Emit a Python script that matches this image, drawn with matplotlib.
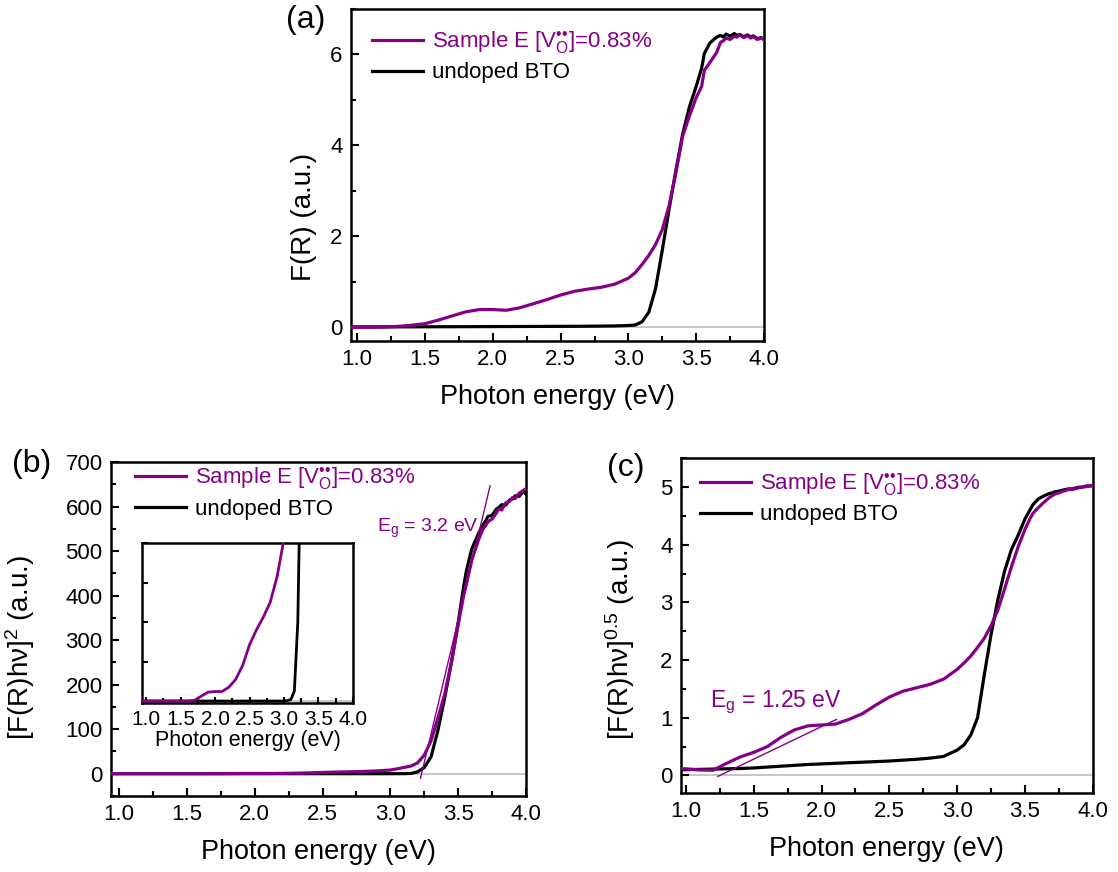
import matplotlib
matplotlib.use('Agg')
import matplotlib.pyplot as plt
from matplotlib.ticker import MultipleLocator

plt.rcParams['font.family'] = ['Liberation Sans', 'DejaVu Sans']
plt.rcParams['mathtext.fontset'] = 'custom'
plt.rcParams['mathtext.rm'] = 'Liberation Sans'
plt.rcParams['mathtext.it'] = 'Liberation Sans:italic'
plt.rcParams['mathtext.bf'] = 'Liberation Sans:bold'

PURPLE = '#850085'

# photon energy grid (eV), shared by all panels
energy = [0.94, 1.0, 1.1, 1.2, 1.3, 1.4, 1.5, 1.6, 1.7, 1.8, 1.9, 2.0, 2.1, 2.2,
          2.3, 2.4, 2.5, 2.6, 2.7, 2.8, 2.9, 3.0, 3.05, 3.1, 3.15, 3.2, 3.25,
          3.3, 3.35, 3.4, 3.45, 3.5, 3.54, 3.56, 3.6, 3.65, 3.68, 3.7, 3.72,
          3.75, 3.78, 3.8, 3.82, 3.85, 3.88, 3.9, 3.92, 3.95, 3.98, 4.0]

# (a) Kubelka-Munk F(R)
fr_sample = [0.0, 0.0, 0.0, 0.005, 0.02, 0.045, 0.08, 0.16, 0.25, 0.34, 0.39, 0.39,
             0.375, 0.43, 0.52, 0.61, 0.71, 0.79, 0.84, 0.88, 0.95, 1.08,
             1.2, 1.38, 1.58, 1.82, 2.15, 2.68, 3.4, 4.2, 4.65, 5.05,
             5.3, 5.65,
             5.82, 6.04, 6.27, 6.3, 6.36, 6.33, 6.4, 6.38, 6.43, 6.37, 6.41, 6.36,
             6.39, 6.33, 6.36, 6.32]
fr_undoped = [0.01, 0.01, 0.01, 0.01, 0.01, 0.01, 0.012, 0.012, 0.013, 0.014, 0.015,
              0.016, 0.017, 0.018, 0.019, 0.02, 0.021, 0.022, 0.024, 0.027, 0.03, 0.04,
              0.05, 0.12, 0.33, 0.85, 1.7, 2.6, 3.45, 4.25, 4.85, 5.3,
              5.7, 6.02,
              6.25, 6.38, 6.42, 6.38, 6.45, 6.4, 6.46, 6.42, 6.44, 6.39, 6.43, 6.38,
              6.41, 6.35, 6.37, 6.33]

# (b) [F(R)hv]^2, direct gap
direct_sample = [0, 0, 0, 0, 0, 0, 0, 0, 0.03, 0.25, 0.45, 0.48, 0.48, 0.7, 1.1, 1.8,
                 2.85, 3.6, 4.25, 5.0, 6.3, 8.2,
                 11, 14, 17, 24, 42, 74, 125, 178, 250, 335,
                 400, 425,
                 480, 525, 548, 556, 566, 572, 585, 595, 592, 608, 612, 620, 618,
                 630, 636, 640]
direct_undoped = [0, 0, 0, 0, 0, 0, 0, 0, 0, 0, 0, 0, 0, 0, 0, 0, 0, 0, 0, 0, 0, 0,
                  0.02, 0.08, 0.5, 4.0, 14, 38, 97, 170, 250, 340,
                  420, 455,
                  505, 540, 558, 566, 578, 580, 594, 598, 604, 603, 615, 617, 624,
                  623, 634, 628]

# (c) [F(R)hv]^0.5, indirect gap
indirect_sample = [0.12, 0.115, 0.095, 0.09, 0.21, 0.32, 0.40, 0.50, 0.66, 0.79, 0.86,
                   0.875, 0.89, 0.97, 1.07, 1.22, 1.36, 1.46, 1.52, 1.58, 1.67, 1.84,
                   1.95, 2.07, 2.22, 2.38, 2.6, 2.87, 3.24, 3.62, 3.97, 4.27,
                   4.47, 4.55,
                   4.65, 4.76, 4.82, 4.85, 4.88, 4.9, 4.93, 4.94, 4.96, 4.96, 4.98,
                   4.99, 5.0, 5.01, 5.02, 5.03]
indirect_undoped = [0.1, 0.1, 0.105, 0.11, 0.115, 0.12, 0.13, 0.145, 0.16, 0.175, 0.19,
                    0.2, 0.21, 0.22, 0.23, 0.24, 0.25, 0.265, 0.28, 0.3, 0.33, 0.44,
                    0.53, 0.7, 1.0, 1.75, 2.45, 3.05, 3.55, 3.92, 4.17, 4.45,
                    4.62, 4.7,
                    4.8, 4.86, 4.89, 4.9, 4.92, 4.93, 4.95, 4.96, 4.97, 4.97, 4.99,
                    5.0, 5.0, 5.02, 5.02, 5.03]

# linear fits of the absorption edge: gap energy, slope, fitted energy span
eg_direct, slope_direct, span_direct = 3.23, 1280.0, [3.222, 3.735]
eg_indirect, slope_indirect, span_indirect = 1.25, 1.13, [1.235, 2.11]

label_sample = 'Sample E [V$_{\\mathrm{O}}^{\\mathrm{\u2022\u2022}}$]=0.83%'
label_undoped = 'undoped BTO'


def style_axes(ax, xlim, ylim, ymajor, yminor, ticksize=16):
    ax.set_xlim(*xlim)
    ax.set_ylim(*ylim)
    ax.xaxis.set_major_locator(MultipleLocator(0.5))
    ax.xaxis.set_minor_locator(MultipleLocator(0.25))
    ax.yaxis.set_major_locator(MultipleLocator(ymajor))
    ax.yaxis.set_minor_locator(MultipleLocator(yminor))
    ax.xaxis.set_major_formatter('{x:.1f}')
    ax.tick_params(which='both', direction='in', top=False, right=False,
                   width=1.5, labelsize=ticksize, pad=6)
    ax.tick_params(which='major', length=6)
    ax.tick_params(which='minor', length=3.5)
    for sp in ax.spines.values():
        sp.set_linewidth(1.8)
    ax.axhline(0, color='#bdbdbd', lw=1.2, zorder=0)


def draw_pair(ax, y_sample, y_undoped, lw=2.3):
    ax.plot(energy, y_sample, color=PURPLE, lw=lw, label=label_sample, zorder=3)
    ax.plot(energy, y_undoped, color='black', lw=lw, label=label_undoped, zorder=2)


def add_legend(ax, anchor):
    ax.legend(loc='upper left', bbox_to_anchor=anchor, frameon=False, fontsize=16,
              handlelength=2.3, handletextpad=0.4, labelspacing=0.3,
              borderpad=0, borderaxespad=0, labelcolor='linecolor')


fig = plt.figure(figsize=(11.18, 8.72), dpi=100)

# (a)
ax_a = fig.add_axes([0.314, 0.609, 0.3694, 0.3807])
draw_pair(ax_a, fr_sample, fr_undoped)
style_axes(ax_a, (0.955, 4.0), (-0.3, 7.0), 2, 1)
ax_a.set_xlabel('Photon energy (eV)', fontsize=19.5, labelpad=10)
ax_a.set_ylabel('F(R) (a.u.)', fontsize=20)
ax_a.yaxis.set_label_coords(-0.082, 0.373)
add_legend(ax_a, (0.05, 0.94))

# (b)
ax_b = fig.add_axes([0.0993, 0.0872, 0.3712, 0.383])
draw_pair(ax_b, direct_sample, direct_undoped)
style_axes(ax_b, (0.94, 4.0), (-50, 700), 100, 50)
ax_b.set_xlabel('Photon energy (eV)', fontsize=19.5, labelpad=10)
ax_b.set_ylabel('[F(R)h\u03bd]$^{2}$ (a.u.)', fontsize=20)
ax_b.yaxis.set_label_coords(-0.178, 0.443)
add_legend(ax_b, (0.058, 0.99))
fit_y = [slope_direct * (e - eg_direct) for e in span_direct]
ax_b.plot(span_direct, fit_y, color=PURPLE, lw=1.0, zorder=4)
ax_b.text(0.641, 0.79, r'E$_{\mathrm{g}}$ = %.1f eV' % eg_direct, color=PURPLE,
          fontsize=14, transform=ax_b.transAxes, va='baseline')

# inset of (b): the low-absorption region
ax_in = fig.add_axes([0.127, 0.1938, 0.1887, 0.1835])
draw_pair(ax_in, direct_sample, direct_undoped, lw=2.0)
style_axes(ax_in, (0.94, 4.0), (-0.1, 8), 2, 2, ticksize=15)
ax_in.tick_params(axis='y', labelleft=False)
ax_in.tick_params(which='major', length=4)
ax_in.tick_params(which='both', pad=5)
ax_in.set_xlabel('Photon energy (eV)', fontsize=15.5, labelpad=1)

# (c)
ax_c = fig.add_axes([0.609, 0.0909, 0.3685, 0.3835])
draw_pair(ax_c, indirect_sample, indirect_undoped)
style_axes(ax_c, (0.963, 4.0), (-0.3, 5.5), 1, 0.5)
ax_c.set_xlabel('Photon energy (eV)', fontsize=19.5, labelpad=10)
ax_c.set_ylabel('[F(R)h\u03bd]$^{0.5}$ (a.u.)', fontsize=20)
ax_c.yaxis.set_label_coords(-0.107, 0.457)
add_legend(ax_c, (0.046, 0.962))
fit_y = [slope_indirect * (e - eg_indirect) for e in span_indirect]
ax_c.plot(span_indirect, fit_y, color=PURPLE, lw=1.0, zorder=4)
ax_c.text(0.07, 0.256, r'E$_{\mathrm{g}}$ = %.2f eV' % eg_indirect, color=PURPLE,
          fontsize=16.5, transform=ax_c.transAxes, va='baseline')

# panel letters
for lbl, (px, py) in {'(a)': (306, 20), '(b)': (32, 464), '(c)': (626, 468)}.items():
    fig.text(px / 1118, 1 - py / 872, lbl, fontsize=23, ha='center', va='center')

fig.savefig('out.png', dpi=100)
